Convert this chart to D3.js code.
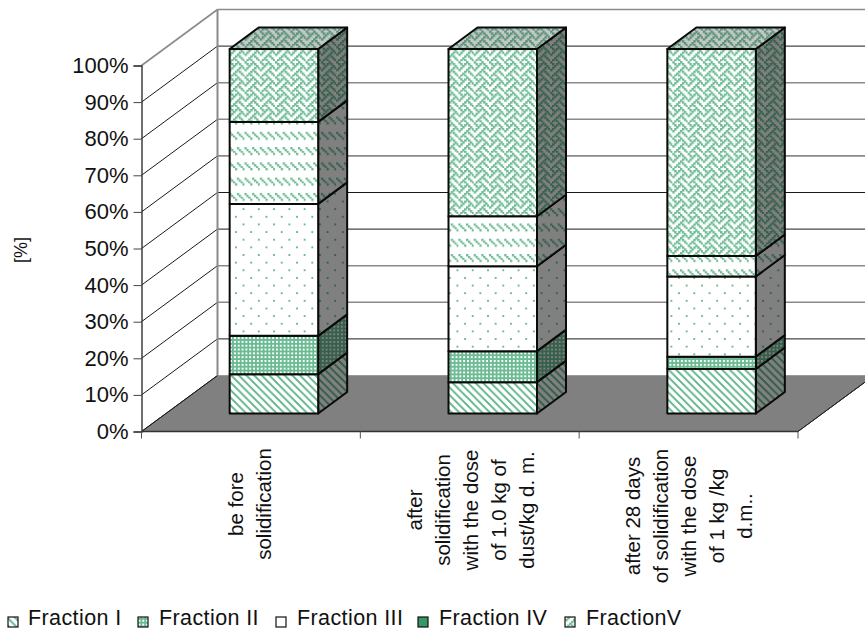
<!DOCTYPE html>
<html>
<head>
<meta charset="utf-8">
<script src="https://cdn.jsdelivr.net/npm/d3@7"></script>
<style>
  html, body { margin: 0; padding: 0; background: #fff; }
  svg { display: block; }
  text { font-family: "Liberation Sans", Arial, sans-serif; fill: #111; }
</style>
</head>
<body>
<svg id="chart" width="865" height="630"></svg>
<script>
// Composition of the dust fractions at three stages of solidification
const categories = [
  ["be fore", "solidification"],
  ["after", "solidification", "with the dose", "of 1.0 kg of", "dust/kg d. m."],
  ["after 28 days", "of solidification", "with the dose", "of 1 kg /kg", "d.m.."]
];
const fractionNames = ["Fraction I", "Fraction II", "Fraction III", "Fraction IV", "FractionV"];
const fractionI = [10.8, 8.6, 12.2];
const fractionII = [10.5, 8.5, 3.4];
const fractionIII = [36.2, 23.3, 22.0];
const fractionIV = [22.5, 13.7, 5.6];
const fractionV = [20.0, 45.9, 56.8];
const percentTicks = [0, 10, 20, 30, 40, 50, 60, 70, 80, 90, 100];

// Hatch bitmaps with the size of one bitmap cell and how far each cell is grown
const hatchDiagonal = ["11100000","01110000","00111000","00011100","00001110","00000111","10000011","11000001"];
const hatchDense = ["1111","1001","1001","1111"];
const hatchDots = ["00000000","00010000","00000000","00000000","00000000","00000001","00000000","00000000"];
const hatchDashes = ["00010001","00000000","00000000","00000000","00000000","10001000","01000100","00100010"];
const hatchWeave = ["10001000","01010100","00100010","01000101","10001000","00010100","00100010","01010001"];
const hatches = [
  { rows: hatchDiagonal, cell: 0.955, grow: 1 },
  { rows: hatchDense, cell: 0.955, grow: 1 },
  { rows: hatchDots, cell: 1.91, grow: 1 },
  { rows: hatchDashes, cell: 1.91, grow: 1.2 },
  { rows: hatchWeave, cell: 1.91, grow: 1.3 }
];

// Face shading: front, side and top of each block
const faces = {
  front: { bg: "#ffffff", fg: "#6dbb94" },
  side:  { bg: "#808080", fg: "#36604b" },
  top:   { bg: "#c4c8c6", fg: "#5a9378" }
};

const svg = d3.select("#chart");
const defs = svg.append("defs");

Object.entries(faces).forEach(([face, shade]) => {
  hatches.forEach((hatch, h) => {
    const size = hatch.rows.length * hatch.cell;
    const p = defs.append("pattern")
      .attr("id", `h${h}-${face}`)
      .attr("patternUnits", "userSpaceOnUse")
      .attr("width", size).attr("height", size);
    p.append("rect").attr("width", size).attr("height", size).attr("fill", shade.bg);
    hatch.rows.forEach((row, r) => {
      [...row].forEach((bit, c) => {
        if (bit === "1") {
          p.append("rect")
            .attr("x", c * hatch.cell).attr("y", r * hatch.cell)
            .attr("width", hatch.cell * hatch.grow).attr("height", hatch.cell * hatch.grow)
            .attr("fill", shade.fg);
        }
      });
    });
  });
});

// Plot geometry
const plot = { left: 141.5, right: 798, bottom: 431.5, top: 65.5, depthX: 76, depthY: -56 };
const blockDepth = { x: 29, y: -21.5 };
const blockWidth = 88.5;
const blockShift = 23;

const x = d3.scaleBand().domain(d3.range(categories.length)).range([plot.left, plot.right]);
const y = d3.scaleLinear().domain([0, 100]).range([plot.bottom, plot.top]);
const yBlock = d3.scaleLinear().domain([0, 100]).range([413.5, 49]);

const series = d3.stack().keys(d3.range(5))(
  d3.range(categories.length).map(i =>
    [fractionI[i], fractionII[i], fractionIII[i], fractionIV[i], fractionV[i]])
);

const polygon = pts => "M" + pts.map(p => p.join(",")).join("L") + "Z";

// Floor
svg.append("path")
  .attr("d", polygon([
    [plot.left, plot.bottom],
    [plot.left + plot.depthX, plot.bottom + plot.depthY],
    [plot.right + plot.depthX, plot.bottom + plot.depthY],
    [plot.right, plot.bottom]
  ]))
  .attr("fill", "#808080")
  .attr("stroke", "#222").attr("stroke-width", 1);

// Gridlines on the side and back walls
const backGray = new Set([20, 30, 60, 70, 80, 100]);
svg.append("g").selectAll("line").data(percentTicks).join("line")
  .attr("x1", plot.left + plot.depthX)
  .attr("x2", 865)
  .attr("y1", d => y(d) + plot.depthY)
  .attr("y2", d => y(d) + plot.depthY)
  .attr("stroke", d => d === 0 ? "#9a9a9a" : (backGray.has(d) ? "#8a8a8a" : "#1a1a1a"))
  .attr("stroke-width", d => backGray.has(d) ? 1.6 : 1);

svg.append("g").selectAll("line").data(percentTicks).join("line")
  .attr("x1", plot.left)
  .attr("x2", plot.left + plot.depthX)
  .attr("y1", d => y(d))
  .attr("y2", d => y(d) + plot.depthY)
  .attr("stroke", d => d === 100 ? "#8a8a8a" : "#1a1a1a")
  .attr("stroke-width", d => d === 100 ? 1.6 : 1);

// Back corner of the walls
svg.append("line")
  .attr("x1", plot.left + plot.depthX).attr("x2", plot.left + plot.depthX)
  .attr("y1", y(100) + plot.depthY).attr("y2", y(0) + plot.depthY)
  .attr("stroke", "#8a8a8a").attr("stroke-width", 2);

// Right edge of the floor
svg.append("line")
  .attr("x1", plot.right).attr("x2", plot.right + plot.depthX)
  .attr("y1", plot.bottom).attr("y2", plot.bottom + plot.depthY)
  .attr("stroke", "#222");

// Value axis
const yAxis = d3.axisLeft(y).tickValues(percentTicks).tickSize(8).tickPadding(5).tickFormat(d => d + "%");
const yG = svg.append("g").attr("transform", `translate(${plot.left},0)`).call(yAxis);
yG.selectAll("text").style("font-size", "22px").attr("fill", "#111");
yG.selectAll("line").attr("stroke", "#444");
yG.select(".domain").attr("stroke", "#333").attr("stroke-width", 1.4);

// Category axis
const edges = [...d3.range(categories.length).map(i => x(i)), plot.right];
svg.append("line")
  .attr("x1", plot.left).attr("x2", plot.right)
  .attr("y1", plot.bottom).attr("y2", plot.bottom)
  .attr("stroke", "#333").attr("stroke-width", 1.4);
svg.append("g").selectAll("line").data(edges).join("line")
  .attr("x1", d => d).attr("x2", d => d)
  .attr("y1", plot.bottom).attr("y2", plot.bottom + 7)
  .attr("stroke", "#555");

// Stacked blocks
const blocks = svg.append("g");
series.forEach((s, h) => {
  s.forEach((d, i) => {
    const x0 = x(i) + (x.bandwidth() - blockWidth) / 2 + blockShift;
    const x1 = x0 + blockWidth;
    const yLow = yBlock(d[0]);
    const yHigh = yBlock(d[1]);
    const addFace = (pts, face) => blocks.append("path")
      .attr("d", polygon(pts))
      .attr("fill", `url(#h${h}-${face})`)
      .attr("stroke", "#0a0a0a")
      .attr("stroke-width", 2)
      .attr("stroke-linejoin", "round");
    addFace([[x1, yLow], [x1 + blockDepth.x, yLow + blockDepth.y], [x1 + blockDepth.x, yHigh + blockDepth.y], [x1, yHigh]], "side");
    if (h === series.length - 1) {
      addFace([[x0, yHigh], [x0 + blockDepth.x, yHigh + blockDepth.y], [x1 + blockDepth.x, yHigh + blockDepth.y], [x1, yHigh]], "top");
    }
    addFace([[x0, yLow], [x1, yLow], [x1, yHigh], [x0, yHigh]], "front");
  });
});

// Category labels, set vertically and read bottom to top
const labelCentres = [504, 510, 516];
const labelShift = [5, 7, 6.5];
const lineGap = 27.9;
categories.forEach((lines, i) => {
  const centre = x(i) + x.bandwidth() / 2 + 1;
  const first = centre + labelShift[i] - (lines.length - 1) * lineGap / 2;
  lines.forEach((line, l) => {
    svg.append("text")
      .attr("transform", `translate(${first + l * lineGap},${labelCentres[i]}) rotate(-90)`)
      .attr("text-anchor", "middle")
      .style("font-size", "20.5px")
      .text(line);
  });
});

// Axis title
svg.append("text")
  .attr("transform", "translate(27,250) rotate(-90)")
  .attr("text-anchor", "middle")
  .style("font-size", "18px")
  .text("[%]");

// Legend
const legendSwatchX = [8, 138, 276, 418, 565];
const legendTextX = [28, 159, 297, 439, 586];
const legend = svg.append("g");
fractionNames.forEach((name, h) => {
  legend.append("rect")
    .attr("x", legendSwatchX[h]).attr("y", 617)
    .attr("width", 10).attr("height", 10)
    .attr("fill", h === 3 ? "#339966" : `url(#h${h}-front)`)
    .attr("stroke", "#111").attr("stroke-width", 1.2);
  legend.append("text")
    .attr("x", legendTextX[h]).attr("y", 625.4)
    .style("font-size", "21.5px")
    .style("letter-spacing", "0.4px")
    .text(name);
});
</script>
</body>
</html>
